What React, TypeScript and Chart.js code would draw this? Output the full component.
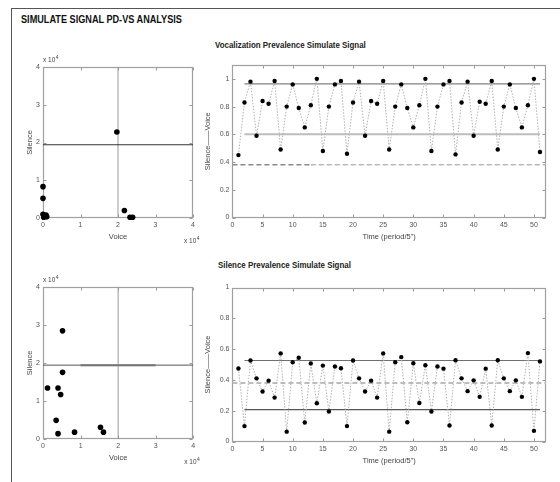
import React, { useEffect, useRef } from 'react';
import { Chart, registerables } from 'chart.js';

Chart.register(...registerables);

// ---------- text ----------
const FIG_TITLE = 'SIMULATE SIGNAL PD-VS ANALYSIS';
const VOC_TITLE = 'Vocalization Prevalence Simulate Signal';
const SIL_TITLE = 'Silence Prevalence Simulate Signal';
const TIME_LABEL = 'Time (period/5")';
const RATIO_LABEL = 'Silence\u2014\u2014Voice';
const VOICE_LABEL = 'Voice';
const SILENCE_LABEL = 'Silence';

// ---------- data ----------
const periods = [
  1, 2, 3, 4, 5, 6, 7, 8, 9, 10, 11, 12, 13, 14, 15, 16, 17, 18, 19, 20, 21, 22, 23, 24, 25,
  26, 27, 28, 29, 30, 31, 32, 33, 34, 35, 36, 37, 38, 39, 40, 41, 42, 43, 44, 45, 46, 47, 48,
  49, 50, 51,
];
const vocalization = [
  0.45, 0.83, 0.98, 0.59, 0.84, 0.82, 0.985, 0.49, 0.8, 0.96, 0.79, 0.65, 0.81, 1.0, 0.48,
  0.8, 0.96, 0.985, 0.46, 0.83, 0.98, 0.59, 0.84, 0.82, 0.985, 0.49, 0.8, 0.96, 0.79, 0.65,
  0.81, 1.0, 0.48, 0.8, 0.96, 0.985, 0.455, 0.83, 0.98, 0.59, 0.835, 0.82, 0.985, 0.49, 0.8,
  0.96, 0.79, 0.65, 0.81, 1.0, 0.472,
];
const silence = [
  0.474, 0.1, 0.526, 0.41, 0.325, 0.395, 0.285, 0.572, 0.064, 0.515, 0.544, 0.123, 0.507,
  0.248, 0.493, 0.195, 0.487, 0.476, 0.1, 0.526, 0.41, 0.325, 0.395, 0.285, 0.572, 0.064,
  0.515, 0.548, 0.125, 0.508, 0.25, 0.495, 0.195, 0.487, 0.473, 0.104, 0.528, 0.41, 0.327,
  0.397, 0.29, 0.473, 0.104, 0.528, 0.41, 0.327, 0.397, 0.29, 0.574, 0.069, 0.52,
];
// reference levels (value, start period, end period)
const vocUpper = 0.964;
const vocMid = 0.6;
const vocDashed = 0.38;
const silUpper = 0.526;
const silDashed = 0.38;
const silLower = 0.207;
const levelStart = 2;
const levelEnd = 51;
const timeMax = 52;
const dashSplit = 13;

// scatter (raw units, axis shown x 10^4)
const vocVoice = [0, 0, 0, 500, 800, 1000, 200, 19700, 21700, 23200, 23900];
const vocSilence = [8300, 5200, 1000, 500, 800, 300, 200, 22800, 2000, 200, 200];
const silVoice = [5200, 5200, 1200, 4000, 4700, 3500, 4000, 8400, 15300, 16100];
const silSilence = [28400, 17500, 13400, 13400, 11700, 4900, 1400, 1800, 3100, 1800];
const scatterMax = 40000;
const scatterStep = 10000;
const crossVoice = 20000;
const crossSilence = 19400;
const bandStart = 10000;
const bandEnd = 30000;

const timeTicks = [0, 5, 10, 15, 20, 25, 30, 35, 40, 45, 50];

// ---------- styling ----------
const FONT = "'Liberation Sans', Arial, Helvetica, sans-serif";
const tickFont = { family: FONT, size: 7 };
const titleFont = { family: FONT, size: 7.5 };
const TICK_COLOR = '#555';

const matFrame = {
  id: 'matFrame',
  beforeDatasetsDraw(chart: any, _args: any, opts: any) {
    const { ctx, chartArea: a, scales } = chart;
    ctx.save();
    ctx.strokeStyle = '#999';
    ctx.lineWidth = 1;
    const L = 3;
    const l = Math.round(a.left) + 0.5;
    const r = Math.round(a.right) - 0.5;
    const t = Math.round(a.top) + 0.5;
    const b = Math.round(a.bottom) - 0.5;
    ctx.beginPath();
    for (const tk of scales.x.ticks) {
      const px = Math.round(scales.x.getPixelForValue(tk.value)) + 0.5;
      ctx.moveTo(px, t);
      ctx.lineTo(px, t + L);
      ctx.moveTo(px, b);
      ctx.lineTo(px, b - L);
    }
    for (const tk of scales.y.ticks) {
      const py = Math.round(scales.y.getPixelForValue(tk.value)) + 0.5;
      ctx.moveTo(l, py);
      ctx.lineTo(l + L, py);
      ctx.moveTo(r, py);
      ctx.lineTo(r - L, py);
    }
    ctx.stroke();
    ctx.strokeStyle = '#a0a0a0';
    ctx.lineWidth = 1.2;
    ctx.strokeRect(l, t, r - l, b - t);
    if (opts && opts.exponent) {
      ctx.fillStyle = '#444';
      ctx.textBaseline = 'alphabetic';
      ctx.font = `6.5px ${FONT}`;
      ctx.textAlign = 'left';
      ctx.fillText('x 10', a.left, a.top - 5);
      const w = ctx.measureText('x 10').width;
      ctx.font = `5px ${FONT}`;
      ctx.fillText('4', a.left + w + 0.5, a.top - 8);
      ctx.font = `6.5px ${FONT}`;
      const w2 = ctx.measureText('x 10').width;
      const xb = a.right - 9;
      ctx.fillText('x 10', xb, a.bottom + 25);
      ctx.font = `5px ${FONT}`;
      ctx.fillText('4', xb + w2 + 0.5, a.bottom + 22);
    }
    ctx.restore();
  },
};

function hLine(x0: number, x1: number, y: number, color: string, width: number, dash: number[] = []) {
  return {
    data: [
      { x: x0, y },
      { x: x1, y },
    ],
    showLine: true,
    borderColor: color,
    borderWidth: width,
    borderDash: dash,
    pointRadius: 0,
    fill: false,
  };
}
function vLine(x: number, y0: number, y1: number, color: string, width: number) {
  return {
    data: [
      { x, y: y0 },
      { x, y: y1 },
    ],
    showLine: true,
    borderColor: color,
    borderWidth: width,
    pointRadius: 0,
    fill: false,
  };
}

function axis(opts: {
  min: number;
  max: number;
  step?: number;
  fixed: number;
  isX: boolean;
  title: string;
  titlePad: number;
  fmt: (v: number) => string;
  afterBuild?: (s: any) => void;
}) {
  return {
    type: 'linear',
    min: opts.min,
    max: opts.max,
    afterBuildTicks: opts.afterBuild,
    ticks: {
      stepSize: opts.step,
      includeBounds: false,
      font: tickFont,
      color: TICK_COLOR,
      padding: 3,
      maxRotation: 0,
      autoSkip: false,
      callback: (v: any) => opts.fmt(Number(v)),
    },
    grid: { display: false, drawTicks: false },
    border: { display: false },
    title: {
      display: true,
      text: opts.title,
      font: titleFont,
      color: '#444',
      padding: opts.isX ? { top: 0, bottom: opts.titlePad } : { top: opts.titlePad, bottom: 0 },
    },
    afterFit: (s: any) => {
      if (opts.isX) s.height = opts.fixed;
      else s.width = opts.fixed;
    },
  };
}

const fmtDec = (v: number) => String(Math.round(v * 10) / 10);
const fmtExp = (v: number) => String(Math.round(v / scatterStep));

function timeChart(
  values: number[],
  levels: any[],
  yMax: number,
  pad: any,
  xFixed: number,
  xTitlePad: number,
) {
  return {
    type: 'scatter',
    data: {
      datasets: [
        {
          data: periods.map((p, i) => ({ x: p, y: values[i] })),
          showLine: true,
          borderColor: '#b0b0b0',
          borderWidth: 1,
          borderDash: [1.5, 1.5],
          pointRadius: 2.2,
          pointBackgroundColor: '#000',
          pointBorderWidth: 0,
          fill: false,
          clip: false,
        },
        ...levels,
      ],
    },
    options: {
      animation: false,
      responsive: false,
      events: [],
      layout: { padding: pad },
      plugins: { legend: { display: false }, tooltip: { enabled: false }, matFrame: {} },
      scales: {
        x: axis({
          min: 0,
          max: timeMax,
          fixed: xFixed,
          isX: true,
          title: TIME_LABEL,
          titlePad: xTitlePad,
          fmt: (v) => String(v),
          afterBuild: (s: any) => {
            s.ticks = timeTicks.map((v) => ({ value: v }));
          },
        }),
        y: axis({
          min: 0,
          max: yMax,
          step: 0.2,
          fixed: 42.4,
          isX: false,
          title: RATIO_LABEL,
          titlePad: 13.8,
          fmt: fmtDec,
        }),
      },
    },
    plugins: [matFrame],
  };
}

function scatterChart(xs: number[], ys: number[], extra: any[], pad: any, xFixed: number, xTitlePad: number) {
  return {
    type: 'scatter',
    data: {
      datasets: [
        {
          data: xs.map((x, i) => ({ x, y: ys[i] })),
          pointRadius: 2.8,
          pointBackgroundColor: '#000',
          pointBorderWidth: 0,
          clip: false,
        },
        ...extra,
      ],
    },
    options: {
      animation: false,
      responsive: false,
      events: [],
      layout: { padding: pad },
      plugins: { legend: { display: false }, tooltip: { enabled: false }, matFrame: { exponent: true } },
      scales: {
        x: axis({
          min: 0,
          max: scatterMax,
          step: scatterStep,
          fixed: xFixed,
          isX: true,
          title: VOICE_LABEL,
          titlePad: xTitlePad,
          fmt: fmtExp,
        }),
        y: axis({
          min: 0,
          max: scatterMax,
          step: scatterStep,
          fixed: 43,
          isX: false,
          title: SILENCE_LABEL,
          titlePad: 25.5,
          fmt: fmtExp,
        }),
      },
    },
    plugins: [matFrame],
  };
}

export default function App() {
  const tl = useRef<HTMLCanvasElement>(null);
  const tr = useRef<HTMLCanvasElement>(null);
  const bl = useRef<HTMLCanvasElement>(null);
  const br = useRef<HTMLCanvasElement>(null);

  useEffect(() => {
    const charts: Chart[] = [];
    charts.push(
      new Chart(
        tl.current as HTMLCanvasElement,
        scatterChart(
          vocVoice,
          vocSilence,
          [
            hLine(0, scatterMax, crossSilence, '#333', 1),
            vLine(crossVoice, 0, scatterMax, '#999', 1),
          ],
          { left: 0, top: 17, right: 7, bottom: 0 },
          32,
          8.5,
        ) as any,
      ),
    );
    charts.push(
      new Chart(
        bl.current as HTMLCanvasElement,
        scatterChart(
          silVoice,
          silSilence,
          [
            hLine(0, scatterMax, crossSilence, '#555', 1),
            hLine(bandStart, bandEnd, crossSilence, '#aaa', 2.5),
            vLine(crossVoice, 0, scatterMax, '#999', 1),
          ],
          { left: 0, top: 16.7, right: 6.7, bottom: 0 },
          31,
          7.5,
        ) as any,
      ),
    );
    charts.push(
      new Chart(
        tr.current as HTMLCanvasElement,
        timeChart(
          vocalization,
          [
            hLine(levelStart, levelEnd, vocUpper, '#808080', 1.2),
            hLine(levelStart, levelEnd, vocMid, '#bdbdbd', 2),
            hLine(0, dashSplit, vocDashed, '#8a8a8a', 1.5, [5, 3]),
            hLine(dashSplit, timeMax, vocDashed, '#b5b5b5', 1.5, [5, 3]),
          ],
          1.1,
          { left: 0, top: 10, right: 14, bottom: 0 },
          32.5,
          8.8,
        ) as any,
      ),
    );
    charts.push(
      new Chart(
        br.current as HTMLCanvasElement,
        timeChart(
          silence,
          [
            hLine(levelStart, levelEnd, silUpper, '#707070', 1.1),
            hLine(0, timeMax, silDashed, '#bdbdbd', 2, [5, 3]),
            hLine(levelStart, levelEnd, silLower, '#555', 1.2),
          ],
          1,
          { left: 0, top: 12.5, right: 14, bottom: 0 },
          33.5,
          9.5,
        ) as any,
      ),
    );
    return () => charts.forEach((c) => c.destroy());
  }, []);

  const abs = (left: number, top: number): React.CSSProperties => ({ position: 'absolute', left, top });

  return (
    <div
      style={{
        position: 'absolute',
        left: 0,
        top: 0,
        width: 560,
        height: 482,
        background: '#fff',
        overflow: 'hidden',
        fontFamily: FONT,
      }}
    >
      <div
        style={{
          position: 'absolute',
          left: 11,
          top: 8,
          right: 0,
          bottom: 0,
          borderLeft: '1.5px solid #555',
          borderTop: '1.5px solid #555',
        }}
      />
      <div
        style={{
          ...abs(21, 13.5),
          fontSize: 10.5,
          fontWeight: 700,
          lineHeight: 1,
          whiteSpace: 'nowrap',
          color: '#111',
          transform: 'scaleX(0.87)',
          transformOrigin: 'left top',
        }}
      >
        {FIG_TITLE}
      </div>
      <div
        style={{
          ...abs(215, 41.3),
          fontSize: 8.8,
          fontWeight: 700,
          lineHeight: 1,
          whiteSpace: 'nowrap',
          color: '#222',
          transform: 'scaleX(0.9)',
          transformOrigin: 'left top',
        }}
      >
        {VOC_TITLE}
      </div>
      <div
        style={{
          ...abs(218, 260.6),
          fontSize: 8.8,
          fontWeight: 700,
          lineHeight: 1,
          whiteSpace: 'nowrap',
          color: '#222',
          transform: 'scaleX(0.9)',
          transformOrigin: 'left top',
        }}
      >
        {SIL_TITLE}
      </div>
      <canvas ref={tl} width={200} height={200} style={abs(0, 50)} />
      <canvas ref={bl} width={200} height={200} style={abs(0, 270)} />
      <canvas ref={tr} width={370} height={195} style={abs(190, 55)} />
      <canvas ref={br} width={370} height={200} style={abs(190, 275)} />
    </div>
  );
}
